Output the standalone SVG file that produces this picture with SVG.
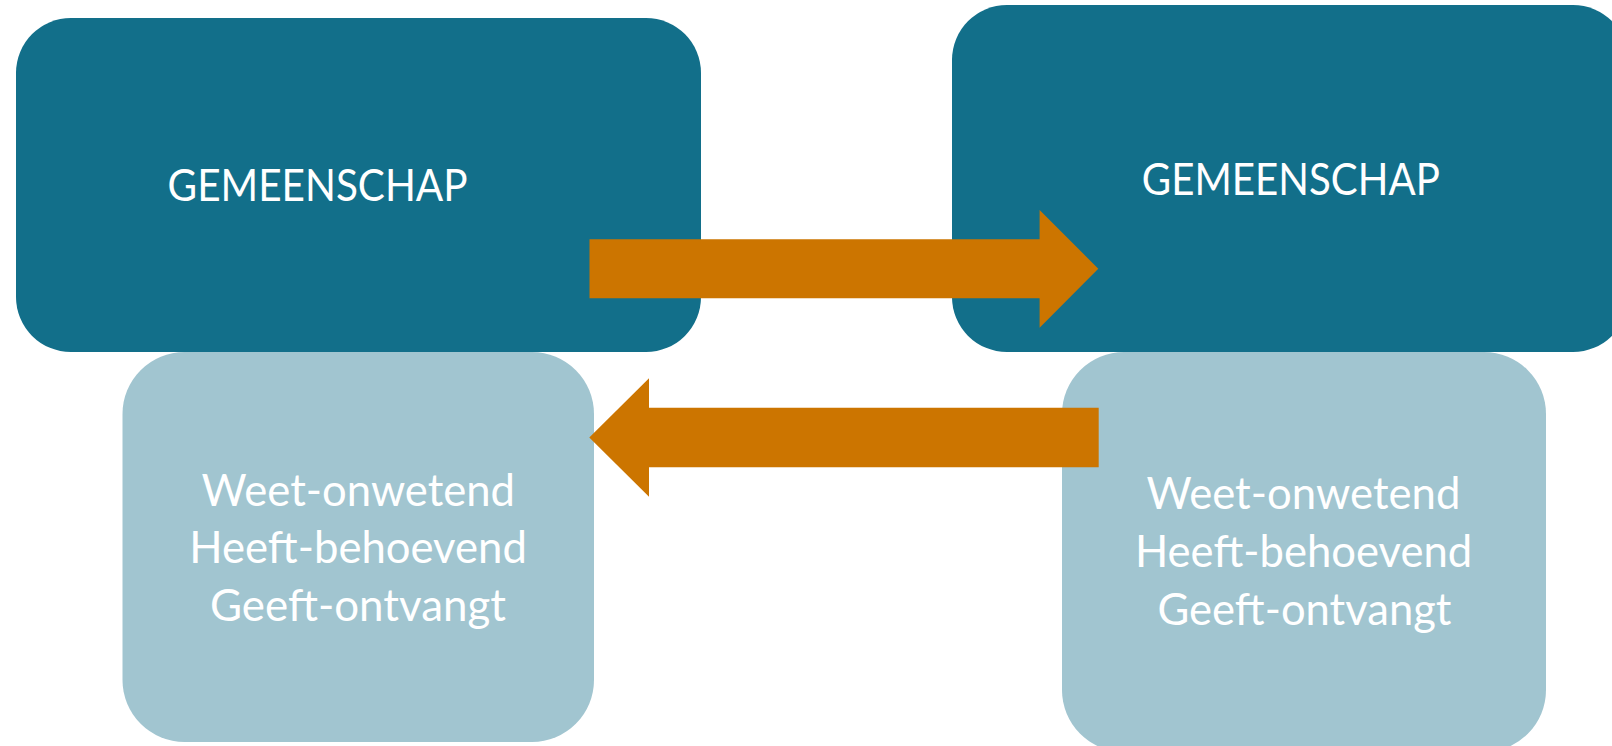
<svg xmlns="http://www.w3.org/2000/svg" width="1612" height="746" viewBox="0 0 1612 746">
<style>
.dark{fill:#126F8A}
.light{fill:#A1C5D0}
.arrow{fill:#CC7500}
.t{font-family:Lato,"Open Sans","Liberation Sans",sans-serif;font-size:44px;fill:#FFFFFF}
</style>
<rect width="1612" height="746" fill="#FFFFFF"/>
<g id="node-bottom-left">
<rect class="light" x="122.5" y="352" width="471.5" height="390" rx="62" ry="62"/>
<text class="t" text-anchor="middle" x="358.3" y="505.7" textLength="313.5" lengthAdjust="spacingAndGlyphs">Weet-onwetend</text>
<text class="t" text-anchor="middle" x="358.1" y="563.4" textLength="337.5" lengthAdjust="spacingAndGlyphs">Heeft-behoevend</text>
<text class="t" text-anchor="middle" x="358" y="621" textLength="296" lengthAdjust="spacingAndGlyphs">Geeft-ontvangt</text>
</g>
<g id="node-bottom-right">
<rect class="light" x="1062" y="352" width="484" height="400" rx="62" ry="62"/>
<text class="t" text-anchor="middle" x="1303.4" y="509.3" textLength="314" lengthAdjust="spacingAndGlyphs">Weet-onwetend</text>
<text class="t" text-anchor="middle" x="1303.6" y="566.9" textLength="337.4" lengthAdjust="spacingAndGlyphs">Heeft-behoevend</text>
<text class="t" text-anchor="middle" x="1304.5" y="625" textLength="294" lengthAdjust="spacingAndGlyphs">Geeft-ontvangt</text>
</g>
<g id="node-top-left">
<rect class="dark" x="16" y="18" width="685" height="334" rx="55" ry="55"/>
<text class="t" x="167.6" y="201" textLength="300" lengthAdjust="spacingAndGlyphs">GEMEENSCHAP</text>
</g>
<g id="node-top-right">
<rect class="dark" x="952" y="5" width="676" height="347" rx="55" ry="55"/>
<text class="t" text-anchor="middle" x="1290.8" y="195" textLength="298" lengthAdjust="spacingAndGlyphs">GEMEENSCHAP</text>
</g>
<g id="connectors">
<path class="arrow" d="M589.5,239.3 L1039.6,239.3 L1039.6,210 L1098.3,268.7 L1039.6,327.7 L1039.6,298.3 L589.5,298.3 Z"/>
<path class="arrow" d="M1098.7,407.7 L649,407.7 L649,378.3 L589.3,437.5 L649,496.7 L649,467.3 L1098.7,467.3 Z"/>
</g>
</svg>
